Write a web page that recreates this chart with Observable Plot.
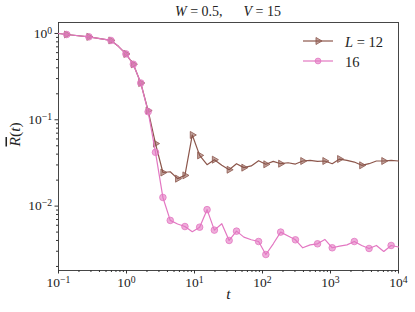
<!DOCTYPE html>
<html><head><meta charset="utf-8">
<script src="https://cdn.jsdelivr.net/npm/d3@7"></script>
<script src="https://cdn.jsdelivr.net/npm/@observablehq/plot@0.6"></script>
<style>body{margin:0;background:#fff}</style>
</head><body><div id="chart"></div>
<script>
// time grid
const t = [0.1, 0.132, 0.28, 0.59, 0.76, 0.98, 1.26, 1.62, 2.08, 2.67, 3.43, 4.40, 5.64, 7.23, 9.28,
  11.9, 15.3, 19.6, 25.2, 32.3, 41.5, 53.2, 68.3, 87.6, 112, 144, 185, 238, 305, 391, 502, 644, 826,
  1060, 1361, 1746, 2240, 2875, 3690, 4733, 6075, 7795, 10000];
// L = 12
const R12 = [1.0, 0.973, 0.914, 0.83, 0.71, 0.58, 0.44, 0.267, 0.128, 0.053, 0.0245, 0.025, 0.0208, 0.0227, 0.0667,
  0.0387, 0.0302, 0.0345, 0.0297, 0.0264, 0.031, 0.0279, 0.0292, 0.0336, 0.0305, 0.033, 0.031, 0.0318, 0.0307,
  0.0333, 0.0339, 0.033, 0.0333, 0.031, 0.0351, 0.0339, 0.0324, 0.0297, 0.031, 0.0333, 0.0333, 0.0339, 0.0333];
// L = 16
const R16 = [1.0, 0.973, 0.914, 0.83, 0.71, 0.58, 0.44, 0.267, 0.124, 0.042, 0.0126, 0.00683, 0.0062, 0.0058, 0.00505,
  0.0057, 0.0091, 0.00527, 0.00625, 0.0040, 0.00513, 0.00437, 0.00408, 0.00389, 0.00275, 0.00366, 0.0050, 0.0045, 0.00407,
  0.00329, 0.00356, 0.00366, 0.00411, 0.00329, 0.00344, 0.00356, 0.00389, 0.0035, 0.00323, 0.0035, 0.00298, 0.0035, 0.00336];
// indices of points that carry a marker
const mark12 = [1, 2, 3, 5, 6, 7, 8, 9, 10, 12, 13, 14, 15, 17, 19, 21, 24, 26, 29, 32, 34, 37, 40];
const mark16 = [1, 2, 3, 5, 6, 7, 8, 9, 10, 11, 13, 15, 16, 17, 19, 20, 23, 24, 26, 28, 31, 33, 36, 38, 41];
const seriesLabels = ["L = 12", "16"];
const xMajor = [0.1, 1, 10, 100, 1000, 10000];
const xMajorExp = ["−1", "0", "1", "2", "3", "4"];
const yMajor = [0.01, 0.1, 1];
const yMajorExp = ["−2", "−1", "0"];

const brown = "#8c564b", pink = "#e377c2";
const font = "Liberation Serif";
const triR = 2.6, circR = 3.3;
const rows12 = t.map((tt, i) => ({t: tt, r: R12[i], i}));
const rows16 = t.map((tt, i) => ({t: tt, r: R16[i], i}));
const minorOf = (lo, hi) => {
  const out = [];
  for (let e = lo; e <= hi; e++) for (let m = 2; m <= 9; m++) out.push(m * Math.pow(10, e));
  return out;
};
const xMinor = minorOf(-1, 3);
const yMinor = minorOf(-3, -1).filter(v => v >= 1.8e-3);

const plot = Plot.plot({
  width: 415, height: 312,
  marginLeft: 58, marginRight: 17, marginTop: 22, marginBottom: 42,
  style: {fontFamily: font, fontSize: "13.5px", background: "white", color: "#222"},
  x: {type: "log", domain: [0.1, 1e4]},
  y: {type: "log", domain: [1.795e-3, 1.34]},
  marks: [
    Plot.axisX(xMinor, {tickSize: 2, tickFormat: () => "", label: null, stroke: "#333"}),
    Plot.axisX(xMajor, {tickSize: 3.5, tickPadding: 3, tickFormat: d => "10^" + xMajorExp[xMajor.indexOf(d)], label: null, stroke: "#333", fontSize: 13.5}),
    Plot.axisY(yMinor, {tickSize: 2, tickFormat: () => "", label: null, stroke: "#333"}),
    Plot.axisY(yMajor, {tickSize: 3.5, tickPadding: 3, tickFormat: d => "10^" + yMajorExp[yMajor.indexOf(d)], label: null, stroke: "#333", fontSize: 13.5}),
    Plot.frame({stroke: "#333", strokeWidth: 0.9}),
    Plot.line(rows12, {x: "t", y: "r", stroke: brown, strokeWidth: 1.2}),
    Plot.dot(rows12.filter(d => mark12.includes(d.i)), {x: "t", y: "r", symbol: "triangle", rotate: 90, r: triR, fill: brown, fillOpacity: 0.55, stroke: brown, strokeWidth: 0.8}),
    Plot.line(rows16, {x: "t", y: "r", stroke: pink, strokeWidth: 1.2}),
    Plot.dot(rows16.filter(d => mark16.includes(d.i)), {x: "t", y: "r", symbol: "circle", r: circR, fill: pink, fillOpacity: 0.6, stroke: pink, strokeWidth: 0.8}),
    Plot.text(["t"], {frameAnchor: "bottom", dy: 28, fontStyle: "italic", fontSize: 15.5}),
    Plot.text(["R(t)"], {frameAnchor: "left", dx: -43, rotate: -90, fontSize: 15.5})
  ]
});
document.getElementById("chart").appendChild(plot);

const svg = d3.select(plot);
// turn "10^e" tick labels into a base with a raised exponent
svg.selectAll("text").filter(function () { return this.textContent.includes("^"); }).each(function () {
  const el = d3.select(this);
  const [base, exp] = el.text().split("^");
  el.text(null);
  el.append("tspan").text(base);
  el.append("tspan").attr("dy", "-0.42em").attr("font-size", "0.72em").text(exp);
});
// y label: overlined italic R, upright parentheses, italic t
svg.selectAll("text").filter(function () { return this.textContent === "R(t)"; }).each(function () {
  const el = d3.select(this);
  el.text(null);
  el.append("tspan").attr("font-style", "italic").style("text-decoration", "overline").text("R");
  el.append("tspan").text("(");
  el.append("tspan").attr("font-style", "italic").text("t");
  el.append("tspan").text(")");
});

// title
const title = svg.append("text").attr("x", 228).attr("y", 16).attr("text-anchor", "middle")
  .attr("font-family", font).attr("font-size", 14).attr("fill", "#222");
title.append("tspan").attr("font-style", "italic").text("W");
title.append("tspan").text(" = 0.5,      ");
title.append("tspan").attr("font-style", "italic").text("V");
title.append("tspan").text(" = 15");

// legend
const leg = svg.append("g");
[[brown, "triangle", 41], [pink, "circle", 61]].forEach(([c, sym, y], k) => {
  leg.append("line").attr("x1", 303).attr("x2", 333).attr("y1", y).attr("y2", y).attr("stroke", c).attr("stroke-width", 1.2);
  const rr = sym === "circle" ? circR - 0.4 : triR;
  const p = d3.symbol(sym === "circle" ? d3.symbolCircle : d3.symbolTriangle, Math.PI * rr * rr)();
  leg.append("path").attr("d", p).attr("transform", `translate(318,${y}) rotate(${sym === "circle" ? 0 : 90})`)
    .attr("fill", c).attr("fill-opacity", sym === "circle" ? 0.6 : 0.55).attr("stroke", c).attr("stroke-width", 0.8);
  const tx = leg.append("text").attr("x", 345).attr("y", y + 1).attr("dy", "0.35em").attr("text-anchor", "start")
    .attr("font-family", font).attr("font-size", 14.5).attr("fill", "#222");
  if (k === 0) { tx.append("tspan").attr("font-style", "italic").text("L"); tx.append("tspan").text(" = 12"); }
  else tx.text(seriesLabels[1]);
});
</script>
</body></html>
